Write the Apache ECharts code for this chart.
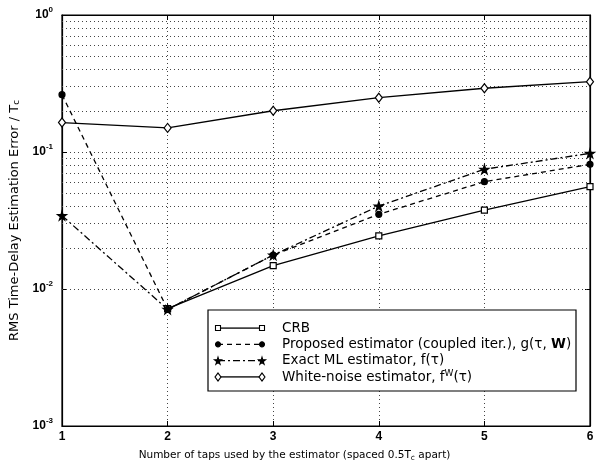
<!DOCTYPE html>
<html><head><meta charset="utf-8">
<script src="https://cdn.jsdelivr.net/npm/echarts@6/dist/echarts.min.js"></script>
<style>html,body{margin:0;padding:0;background:#fff}#c{width:601px;height:462px}</style>
</head><body><div id="c"></div>
<script>
// ---- data ----
const taps = [1, 2, 3, 4, 5, 6];
const crb = [null, 0.0072, 0.0148, 0.0244, 0.0377, 0.0558];
const proposed = [0.262, 0.0071, 0.0177, 0.0351, 0.0607, 0.0813];
const exactML = [0.0343, 0.0071, 0.0177, 0.0403, 0.0748, 0.0978];
const whiteNoise = [0.164, 0.150, 0.200, 0.249, 0.292, 0.326];
const legendLabels = [
  'CRB',
  'Proposed estimator (coupled iter.), g(τ, {bw|W})',
  'Exact ML estimator, f(τ)',
  'White-noise estimator, f{sup|W}(τ)'
];
const legendRows = [0, 1, 2, 3];
const yMin = 0.001, yMax = 1;
const xTitle = 'Number of taps used by the estimator (spaced 0.5T{sub|c} apart)';
const yTitle = 'RMS Time-Delay Estimation Error / T{sub|c}';

const minorLevels = [];
for (let k = -3; k < 0; k++) for (let m = 2; m <= 9; m++) minorLevels.push(m * Math.pow(10, k));

const pairs = arr => taps.map((x, i) => [x, arr[i]]);
const FONT = 'Liberation Sans, Arial, sans-serif';
const WFONT = 'DejaVu Sans, sans-serif';
const starPath = 'path://M50,0 L61,35 L98,35 L68,57 L79,91 L50,70 L21,91 L32,57 L2,35 L39,35 Z';
const gridLine = {color: '#444', type: [1, 3], width: 1};

const styles = [
  {line: 'solid', symbol: 'rect', size: 6, lsize: 5, lw: 5, filled: false},
  {line: [5, 4], symbol: 'circle', size: 6, lsize: 5, lw: 5, filled: true},
  {line: [7, 3, 2, 3], symbol: starPath, size: 9, lsize: 7, lw: 7, filled: true},
  {line: 'solid', symbol: 'diamond', size: [7, 9], lsize: [6, 8], lw: 6, filled: false}
];
const dataSets = [crb, proposed, exactML, whiteNoise];

const chart = echarts.init(document.getElementById('c'), null, {renderer: 'canvas'});

const mainSeries = dataSets.map((d, i) => {
  const s = styles[i];
  const ser = {
    name: 's' + i, type: 'line', data: pairs(d), xAxisIndex: 0, yAxisIndex: 0,
    symbol: s.symbol, symbolSize: s.size, showSymbol: true, connectNulls: false,
    lineStyle: {color: '#000', width: 1.3, type: s.line},
    itemStyle: {color: s.filled ? '#000' : '#fff', borderColor: '#000', borderWidth: 1.2},
    emphasis: {disabled: true}, z: 5
  };
  if (i === 0) {
    ser.markLine = {silent: true, symbol: 'none', animation: false, label: {show: false},
      lineStyle: gridLine, emphasis: {disabled: true}, z: 1,
      data: minorLevels.map(v => ({yAxis: v}))};
  }
  return ser;
});

const legendSeries = legendRows.map((r, i) => {
  const s = styles[i];
  return {
    name: 'leg' + i, type: 'line', xAxisIndex: 2, yAxisIndex: 2,
    data: [[0, r], {value: [1, r], label: {show: true, formatter: legendLabels[i]}}],
    symbol: s.symbol, symbolSize: s.lsize, showSymbol: true,
    lineStyle: {color: '#000', width: 1.3, type: s.line},
    itemStyle: {color: s.filled ? '#000' : '#fff', borderColor: '#000', borderWidth: 1.1},
    label: {show: false, position: 'right', distance: 19.5 - s.lw / 2, color: '#000',
      fontFamily: WFONT, fontSize: 13.5, lineHeight: 16,
      rich: {
        bw: {fontFamily: WFONT, fontSize: 13.5, fontWeight: 'bold', color: '#000', lineHeight: 16},
        sup: {fontFamily: WFONT, fontSize: 9, color: '#000', lineHeight: 9, verticalAlign: 'top'}
      }},
    emphasis: {disabled: true}, silent: true, z: 10
  };
});

const supLabel = v => {
  const e = Math.round(Math.log10(v));
  return '{b|10}{s|' + (e < 0 ? '-' + (-e) : e) + '}';
};

const option = {
  backgroundColor: '#fff',
  animation: false,
  grid: [
    {left: 62, right: 11, top: 15, bottom: 36, containLabel: false, outerBoundsMode: 'none',
     show: true, borderColor: '#000', borderWidth: 1.2, backgroundColor: 'transparent'},
    {left: 218, top: 328, width: 44, height: 49, show: false, containLabel: false, outerBoundsMode: 'none'}
  ],
  graphic: [{
    type: 'rect', z: 8, silent: true,
    shape: {x: 208, y: 310, width: 368, height: 81},
    style: {fill: '#fff', stroke: '#000', lineWidth: 1.2}
  }],
  xAxis: [{
    type: 'value', gridIndex: 0, min: 1, max: 6, interval: 1, position: 'bottom',
    axisLine: {show: true, lineStyle: {color: '#000', width: 1.2}},
    axisTick: {show: true, inside: true, length: 5, lineStyle: {color: '#000'}},
    axisLabel: {color: '#000', fontFamily: FONT, fontSize: 12, fontWeight: 'bold', margin: 5},
    splitLine: {show: true, lineStyle: gridLine},
    name: xTitle, nameLocation: 'middle', nameGap: 19,
    nameTextStyle: {color: '#000', fontFamily: WFONT, fontSize: 10.5, lineHeight: 14, padding: [0, 63, 0, 0],
      rich: {sub: {fontSize: 7.5, fontFamily: WFONT, color: '#000', lineHeight: 7, verticalAlign: 'bottom'}}}
  }, {
    type: 'value', gridIndex: 0, min: 1, max: 6, interval: 1, position: 'top',
    axisLine: {show: true, lineStyle: {color: '#000', width: 1.2}},
    axisTick: {show: true, inside: true, length: 5, lineStyle: {color: '#000'}},
    axisLabel: {show: false}, splitLine: {show: false}
  }, {
    type: 'value', gridIndex: 1, min: 0, max: 1, show: false
  }],
  yAxis: [{
    type: 'log', gridIndex: 0, logBase: 10, min: yMin, max: yMax, position: 'left',
    axisLine: {show: true, lineStyle: {color: '#000', width: 1.2}},
    axisTick: {show: true, inside: true, length: 5, lineStyle: {color: '#000'}},
    axisLabel: {formatter: supLabel, margin: 9, color: '#000',
      rich: {b: {fontFamily: FONT, fontSize: 12, fontWeight: 'bold', color: '#000', lineHeight: 19},
             s: {fontFamily: FONT, fontSize: 8, fontWeight: 'bold', color: '#000', lineHeight: 8, verticalAlign: 'top'}}},
    splitLine: {show: true, lineStyle: gridLine},
    name: yTitle, nameLocation: 'middle', nameGap: 37, nameRotate: 90,
    nameTextStyle: {color: '#000', fontFamily: WFONT, fontSize: 13, lineHeight: 15,
      rich: {sub: {fontSize: 8.5, fontFamily: WFONT, color: '#000', lineHeight: 8, verticalAlign: 'bottom'}}}
  }, {
    type: 'log', gridIndex: 0, logBase: 10, min: yMin, max: yMax, position: 'right',
    axisLine: {show: true, lineStyle: {color: '#000', width: 1.2}},
    axisTick: {show: true, inside: true, length: 5, lineStyle: {color: '#000'}},
    axisLabel: {show: false}, splitLine: {show: false}
  }, {
    type: 'value', gridIndex: 1, min: 0, max: 3, inverse: true, show: false
  }],
  series: mainSeries.concat(legendSeries)
};
chart.setOption(option);
</script></body></html>
